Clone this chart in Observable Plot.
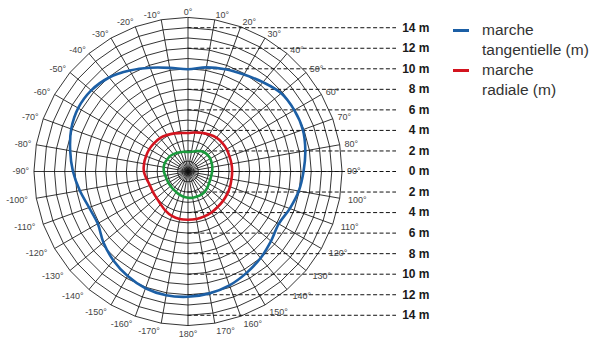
<!DOCTYPE html>
<html>
<head>
<meta charset="utf-8">
<script src="https://cdn.jsdelivr.net/npm/d3@7"></script>
<script src="https://cdn.jsdelivr.net/npm/@observablehq/plot@0.6"></script>
<style>
  html, body { margin: 0; padding: 0; background: #fff; }
  #wrap { position: relative; width: 589px; height: 338px; overflow: hidden; }
  #legend { position: absolute; left: 453px; top: 20px; font-family: "Liberation Sans", Arial, sans-serif; font-size: 15.5px; line-height: 20px; color: #333; }
  .row { position: relative; height: 20px; padding-left: 29px; white-space: nowrap; }
  .sw { position: absolute; left: 0; top: 9px; width: 16px; height: 2.6px; }
</style>
</head>
<body>
<div id="wrap"></div>
<script>
// ---- data (angles clockwise from top, degrees; radius in metres) ----
const angleDeg = [0,10,20,30,40,50,60,70,80,90,100,110,120,130,140,150,160,170,180,190,200,210,220,230,240,250,260,270,280,290,300,310,320,330,340,350];
const tangentielle = [9.95,10.3,10.6,10.9,11.35,11.85,11.95,11.9,11.6,11.25,10.95,10.55,10.2,10.55,11.0,11.4,11.8,12.05,12.2,12.24,12.1,11.75,11.3,10.75,10.15,10.25,10.7,11.2,11.65,12.1,12.35,12.3,11.95,11.35,10.75,10.25];
const radiale = [3.75,3.85,4.0,4.15,4.3,4.35,4.35,4.3,4.3,4.3,4.3,4.35,4.4,4.45,4.5,4.6,4.65,4.7,4.7,4.7,4.6,4.4,4.15,4.0,3.95,3.95,4.1,4.3,4.35,4.35,4.35,4.3,4.25,4.1,3.95,3.8];
const inner = [1.9,1.95,2.1,2.3,2.45,2.5,2.5,2.45,2.4,2.35,2.3,2.3,2.35,2.45,2.55,2.6,2.6,2.6,2.55,2.5,2.4,2.3,2.25,2.2,2.2,2.2,2.25,2.35,2.4,2.4,2.35,2.3,2.2,2.1,2.0,1.95];
const seriesNames = ["marche tangentielle (m)", "marche radiale (m)", "intérieur"];
const seriesColors = ["#1c5fa5", "#d3141f", "#1a9a3c"];
const ringRadii = [1,2,3,4,5,6,7,8,9,10,11,12,13,14,15];
const spokeDeg = [0,10,20,30,40,50,60,70,80,90,100,110,120,130,140,150,160,170,180,190,200,210,220,230,240,250,260,270,280,290,300,310,320,330,340,350];
const degLabels = [0,10,20,30,40,50,60,70,80,90,100,110,120,130,140,150,160,170,180,-170,-160,-150,-140,-130,-120,-110,-100,-90,-80,-70,-60,-50,-40,-30,-20,-10];
const distLevels = [14,12,10,8,6,4,2,0,-2,-4,-6,-8,-10,-12,-14];
const distLabels = ["14 m","12 m","10 m","8 m","6 m","4 m","2 m","0 m","2 m","4 m","6 m","8 m","10 m","12 m","14 m"];

// ---- layout ----
const W = 589, H = 338, PX = 10.27, CX = 187.5, CY = 171;
const rad = d => d * Math.PI / 180;
const px = (deg, r) => r * Math.sin(rad(deg));
const py = (deg, r) => r * Math.cos(rad(deg));

const curves = [];
[tangentielle, radiale, inner].forEach((vals, s) => {
  vals.forEach((r, i) => curves.push({deg: angleDeg[i], r, s}));
});

const rings = [];
ringRadii.forEach(r => spokeDeg.forEach(a => rings.push({r, a})));

const spokes = spokeDeg.map(a => ({a}));

const labelRows = degLabels.map(a => {
  const R = (Math.abs(a) <= 90 ? 159 : 162.5) / PX;
  return {a, text: a + "°", x: px(a, R), y: py(a, R)};
});

const dashes = distLevels.map((v, i) => ({y: v, label: distLabels[i]}));
const dashEnd = (396 - CX) / PX;
const labelX = (429 - CX) / PX;

const chart = Plot.plot({
  width: W, height: H,
  marginTop: 0, marginRight: 0, marginBottom: 0, marginLeft: 0,
  x: {domain: [-CX / PX, (W - CX) / PX], range: [0, W], axis: null},
  y: {domain: [-(H - CY) / PX, CY / PX], range: [H, 0], axis: null},
  style: {fontFamily: "'Liberation Sans', Arial, sans-serif", background: "white", overflow: "visible"},
  marks: [
    Plot.line(rings, {x: d => px(d.a, d.r), y: d => py(d.a, d.r), z: "r", curve: "linear-closed", stroke: "#111", strokeWidth: 0.85}),
    Plot.link(spokes, {x1: 0, y1: 0, x2: d => px(d.a, 15), y2: d => py(d.a, 15), stroke: "#111", strokeWidth: 0.85}),
    Plot.ruleY(dashes, {y: "y", x1: 0, x2: dashEnd, stroke: "#111", strokeWidth: 1, strokeDasharray: "4,2.4"}),
    Plot.text(dashes, {x: labelX, y: "y", text: "label", textAnchor: "end", fontWeight: "bold", fontSize: 12, fill: "#1a1a1a"}),
    Plot.line(curves, {x: d => px(d.deg, d.r), y: d => py(d.deg, d.r), z: "s", stroke: d => seriesColors[d.s], curve: "catmull-rom-closed", strokeWidth: 2.6}),
    Plot.text(labelRows.filter(d => d.a === 0 || d.a === 180), {x: "x", y: "y", text: "text", textAnchor: "middle", fontSize: 9, fill: "#444"}),
    Plot.text(labelRows.filter(d => d.a > 0 && d.a < 180), {x: "x", y: "y", text: "text", textAnchor: "start", fontSize: 9, fill: "#444"}),
    Plot.text(labelRows.filter(d => d.a < 0), {x: "x", y: "y", text: "text", textAnchor: "end", fontSize: 9, fill: "#444"})
  ]
});

const wrap = document.getElementById("wrap");
wrap.appendChild(chart);

const legend = document.createElement("div");
legend.id = "legend";
const entries = [
  {color: seriesColors[0], lines: ["marche", "tangentielle (m)"]},
  {color: seriesColors[1], lines: ["marche", "radiale (m)"]}
];
entries.forEach(e => {
  e.lines.forEach((t, i) => {
    const row = document.createElement("div");
    row.className = "row";
    if (i === 0) {
      const sw = document.createElement("span");
      sw.className = "sw";
      sw.style.background = e.color;
      row.appendChild(sw);
    }
    row.appendChild(document.createTextNode(t));
    legend.appendChild(row);
  });
});
wrap.appendChild(legend);
</script>
</body>
</html>
